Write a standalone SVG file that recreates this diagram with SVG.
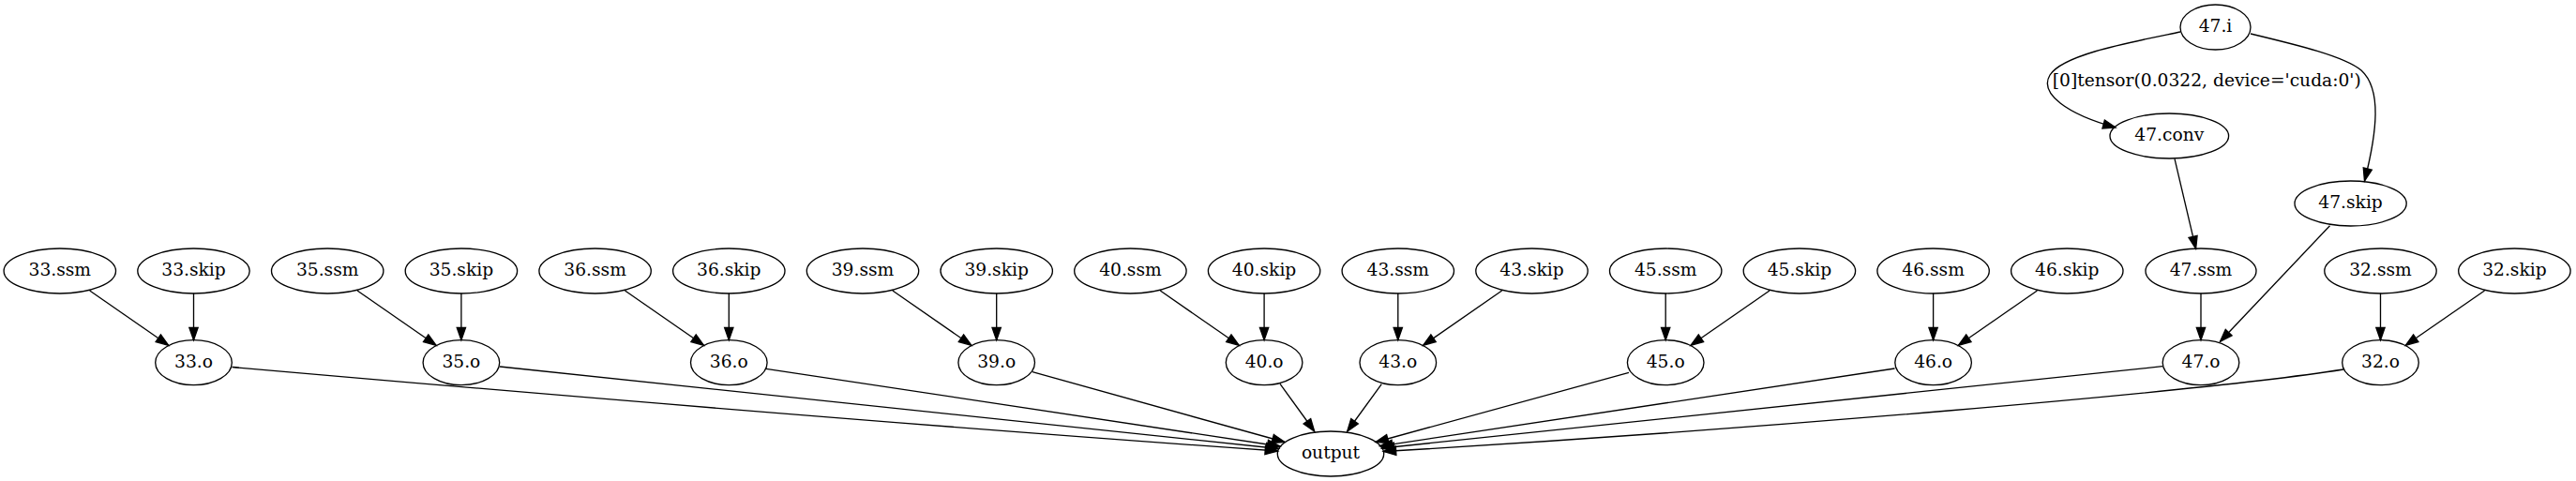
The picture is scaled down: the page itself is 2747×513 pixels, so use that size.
<svg xmlns="http://www.w3.org/2000/svg" width="2747" height="513" viewBox="0 0 2747 513">
<style>
  .n ellipse { fill: none; stroke: #000; stroke-width: 1.33; }
  .n text, .lbl { font-family: "DejaVu Serif", "Liberation Serif", serif; font-size: 18.67px; text-anchor: middle; fill: #000; }
  .e path { fill: none; stroke: #000; stroke-width: 1.33; marker-end: url(#arr); }
</style>
<defs>
  <marker id="arr" markerUnits="userSpaceOnUse" markerWidth="16" markerHeight="12" refX="13.33" refY="0" viewBox="0 -6 16 12" orient="auto" overflow="visible">
    <path d="M0,-4.67 L13.33,0 L0,4.67 Z" fill="#000" stroke="#000" stroke-width="1.33"/>
  </marker>
</defs>
<rect width="2747" height="513" fill="#fff"/>
<g id="edges" class="e">
  <path d="M95.7,310 L179.7,368.3"/>
  <path d="M206.5,312.7 L206.5,362.7"/>
  <path d="M381.1,310 L465.1,368.3"/>
  <path d="M491.9,312.7 L491.9,362.7"/>
  <path d="M666.5,310 L750.5,368.3"/>
  <path d="M777.3,312.7 L777.3,362.7"/>
  <path d="M951.9,310 L1035.9,368.3"/>
  <path d="M1062.7,312.7 L1062.7,362.7"/>
  <path d="M1237.3,310 L1321.3,368.3"/>
  <path d="M1348.1,312.7 L1348.1,362.7"/>
  <path d="M1601.6,310 L1517.6,368.3"/>
  <path d="M1490.8,312.7 L1490.8,362.7"/>
  <path d="M1887,310 L1803,368.3"/>
  <path d="M1776.2,312.7 L1776.2,362.7"/>
  <path d="M2172.4,310 L2088.4,368.3"/>
  <path d="M2061.6,312.7 L2061.6,362.7"/>
  <path d="M2649.5,310 L2565.3,368.3"/>
  <path d="M2538.5,312.7 L2538.5,362.7"/>
  <path d="M2347,312.7 L2347,362.7"/>
  <path d="M2484.5,240.7 L2367.5,364.3"/>
  <path d="M2319,169.3 L2341.6,265.3"/>
  <path d="M2325,34 C2272,45 2200,58 2186,80 C2174,100 2205,122 2256,136"/>
  <path d="M2400,36 C2450,48 2500,60 2518,75 C2540,95 2535,140 2521.5,193"/>
  <path d="M247.5,391.5 C619,424 990,455 1362.5,481"/>
  <path d="M533,391 L1363.5,478.5"/>
  <path d="M817,393.3 L1365,476"/>
  <path d="M1101,396.7 L1370,471.5"/>
  <path d="M1365,409.3 L1401.7,460"/>
  <path d="M1473.3,409.7 L1436.7,460"/>
  <path d="M1737,397.3 L1467,471.5"/>
  <path d="M2020.5,393 L1471.5,475.8"/>
  <path d="M2306,390.7 L1473.5,478"/>
  <path d="M2499,394 C2349,417.5 1875,458 1475.3,481.5"/>
  <text class="lbl" x="2353.3" y="92">[0]tensor(0.0322, device='cuda:0')</text>
</g>
<g id="n33ssm" class="n"><ellipse cx="63.8" cy="289" rx="59.7" ry="24"/><text x="63.8" y="294">33.ssm</text></g>
<g id="n33skip" class="n"><ellipse cx="206.5" cy="289" rx="59.7" ry="24"/><text x="206.5" y="294">33.skip</text></g>
<g id="n35ssm" class="n"><ellipse cx="349.2" cy="289" rx="59.7" ry="24"/><text x="349.2" y="294">35.ssm</text></g>
<g id="n35skip" class="n"><ellipse cx="491.9" cy="289" rx="59.7" ry="24"/><text x="491.9" y="294">35.skip</text></g>
<g id="n36ssm" class="n"><ellipse cx="634.6" cy="289" rx="59.7" ry="24"/><text x="634.6" y="294">36.ssm</text></g>
<g id="n36skip" class="n"><ellipse cx="777.3" cy="289" rx="59.7" ry="24"/><text x="777.3" y="294">36.skip</text></g>
<g id="n39ssm" class="n"><ellipse cx="920" cy="289" rx="59.7" ry="24"/><text x="920" y="294">39.ssm</text></g>
<g id="n39skip" class="n"><ellipse cx="1062.7" cy="289" rx="59.7" ry="24"/><text x="1062.7" y="294">39.skip</text></g>
<g id="n40ssm" class="n"><ellipse cx="1205.4" cy="289" rx="59.7" ry="24"/><text x="1205.4" y="294">40.ssm</text></g>
<g id="n40skip" class="n"><ellipse cx="1348.1" cy="289" rx="59.7" ry="24"/><text x="1348.1" y="294">40.skip</text></g>
<g id="n43ssm" class="n"><ellipse cx="1490.8" cy="289" rx="59.7" ry="24"/><text x="1490.8" y="294">43.ssm</text></g>
<g id="n43skip" class="n"><ellipse cx="1633.5" cy="289" rx="59.7" ry="24"/><text x="1633.5" y="294">43.skip</text></g>
<g id="n45ssm" class="n"><ellipse cx="1776.2" cy="289" rx="59.7" ry="24"/><text x="1776.2" y="294">45.ssm</text></g>
<g id="n45skip" class="n"><ellipse cx="1918.9" cy="289" rx="59.7" ry="24"/><text x="1918.9" y="294">45.skip</text></g>
<g id="n46ssm" class="n"><ellipse cx="2061.6" cy="289" rx="59.7" ry="24"/><text x="2061.6" y="294">46.ssm</text></g>
<g id="n46skip" class="n"><ellipse cx="2204.3" cy="289" rx="59.7" ry="24"/><text x="2204.3" y="294">46.skip</text></g>
<g id="n47ssm" class="n"><ellipse cx="2347" cy="289" rx="59" ry="24"/><text x="2347" y="294">47.ssm</text></g>
<g id="n32ssm" class="n"><ellipse cx="2538.5" cy="289" rx="59.7" ry="24"/><text x="2538.5" y="294">32.ssm</text></g>
<g id="n32skip" class="n"><ellipse cx="2681.4" cy="289" rx="59.7" ry="24"/><text x="2681.4" y="294">32.skip</text></g>
<g id="n33o" class="n"><ellipse cx="206.5" cy="386.7" rx="40.8" ry="24"/><text x="206.5" y="391.7">33.o</text></g>
<g id="n35o" class="n"><ellipse cx="491.9" cy="386.7" rx="40.8" ry="24"/><text x="491.9" y="391.7">35.o</text></g>
<g id="n36o" class="n"><ellipse cx="777.3" cy="386.7" rx="40.8" ry="24"/><text x="777.3" y="391.7">36.o</text></g>
<g id="n39o" class="n"><ellipse cx="1062.7" cy="386.7" rx="40.8" ry="24"/><text x="1062.7" y="391.7">39.o</text></g>
<g id="n40o" class="n"><ellipse cx="1348.1" cy="386.7" rx="40.8" ry="24"/><text x="1348.1" y="391.7">40.o</text></g>
<g id="n43o" class="n"><ellipse cx="1490.8" cy="386.7" rx="40.8" ry="24"/><text x="1490.8" y="391.7">43.o</text></g>
<g id="n45o" class="n"><ellipse cx="1776.2" cy="386.7" rx="40.8" ry="24"/><text x="1776.2" y="391.7">45.o</text></g>
<g id="n46o" class="n"><ellipse cx="2061.6" cy="386.7" rx="40.8" ry="24"/><text x="2061.6" y="391.7">46.o</text></g>
<g id="n47o" class="n"><ellipse cx="2347" cy="386.7" rx="40.8" ry="24"/><text x="2347" y="391.7">47.o</text></g>
<g id="n32o" class="n"><ellipse cx="2538.5" cy="386.7" rx="40.8" ry="24"/><text x="2538.5" y="391.7">32.o</text></g>
<g id="noutput" class="n"><ellipse cx="1419" cy="484" rx="56.7" ry="24"/><text x="1419" y="489">output</text></g>
<g id="n47i" class="n"><ellipse cx="2362.5" cy="29" rx="37.5" ry="24"/><text x="2362.5" y="34">47.i</text></g>
<g id="n47conv" class="n"><ellipse cx="2313.3" cy="145" rx="63.3" ry="24"/><text x="2313.3" y="150">47.conv</text></g>
<g id="n47skip" class="n"><ellipse cx="2506.6" cy="217" rx="59.6" ry="24"/><text x="2506.6" y="222">47.skip</text></g>
</svg>
